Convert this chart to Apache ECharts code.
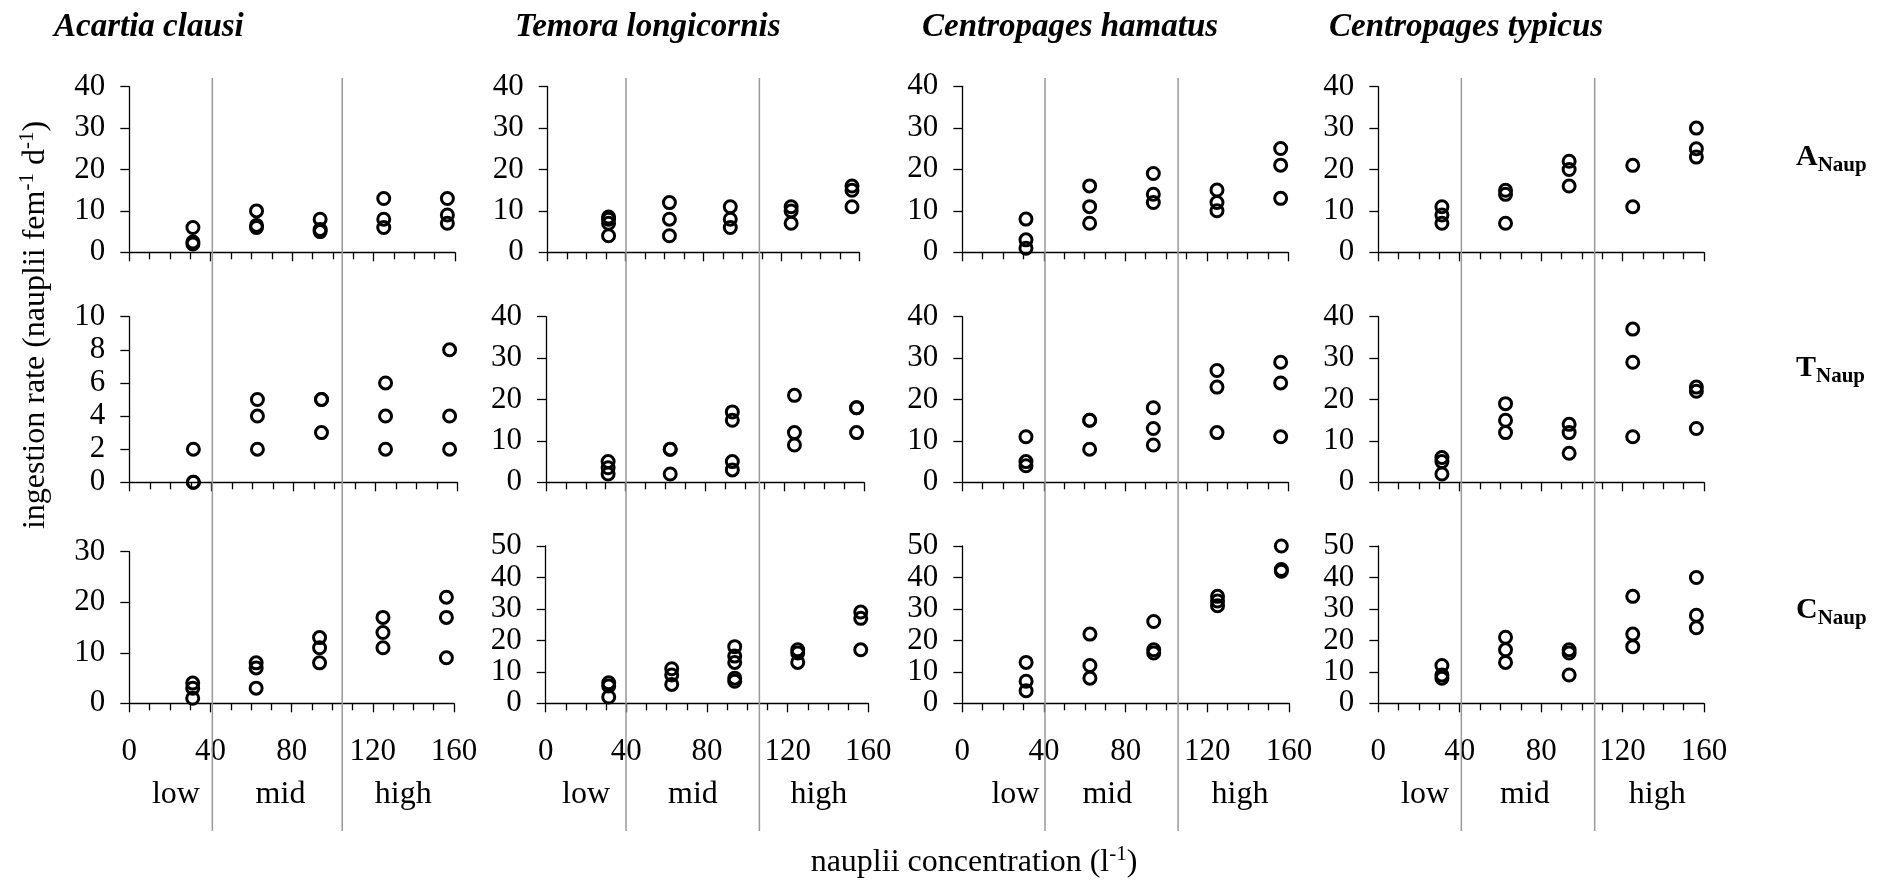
<!DOCTYPE html>
<html><head><meta charset="utf-8">
<script src="https://cdn.jsdelivr.net/npm/echarts@6/dist/echarts.min.js"></script>
<style>html,body{margin:0;padding:0;background:#fff}#c{width:1888px;height:888px}</style>
</head><body><div id="c"></div>
<script>
// ---------- data ----------
const species = ['Acartia clausi', 'Temora longicornis', 'Centropages hamatus', 'Centropages typicus'];
const preyLetters = ['A', 'T', 'C'];
const preySub = 'Naup';
const concentrations = [31.25, 62.5, 93.75, 125, 156.25];
const xTickLabels = [0, 40, 80, 120, 160];
const regionNames = ['low', 'mid', 'high'];
const regionCenters = [[23, 74.5, 135], [20, 73, 135.5], [26, 71, 136], [23, 72, 137]];
const dividers = [[40.8, 104.6], [40.2, 108.7], [40.6, 105.9], [40.8, 106.3]];
const yMax = [[40, 40, 40, 40], [10, 40, 40, 40], [30, 50, 50, 50]];
const yStep = [[10, 10, 10, 10], [2, 10, 10, 10], [10, 10, 10, 10]];

// prey: A_Naup
const acartia_A = [[6, 2.5, 2], [10, 6.5, 6], [8, 5.5, 5], [13, 8, 6], [13, 9, 7]];
const temora_A = [[8.5, 8, 7, 4], [12, 8, 4], [11, 8, 6], [11, 10, 7], [16, 15, 11]];
const hamatus_A = [[8, 3, 1], [16, 11, 7], [19, 14, 12], [15, 12, 10], [25, 21, 13]];
const typicus_A = [[11, 9, 7], [15, 14, 7], [22, 20, 16], [21, 11], [30, 25, 23]];
// prey: T_Naup
const acartia_T = [[2, 0, 0], [5, 4, 2], [5, 5, 3], [6, 4, 2], [8, 4, 2]];
const temora_T = [[5, 3.5, 2], [8, 8, 2], [17, 15, 5, 3], [21, 12, 9], [18, 18, 12]];
const hamatus_T = [[11, 5, 4], [15, 15, 8], [18, 13, 9], [27, 23, 12], [29, 24, 11]];
const typicus_T = [[6, 5, 2], [19, 15, 12], [14, 12, 7], [37, 29, 11], [23, 22, 13]];
// prey: C_Naup
const acartia_C = [[4, 3, 1], [8, 7, 3], [13, 11, 8], [17, 14, 11], [21, 17, 9]];
const temora_C = [[6.5, 5.5, 2], [11, 9, 6], [18, 15, 13, 8, 7], [17, 16, 13], [29, 27, 17]];
const hamatus_C = [[13, 7, 4], [22, 12, 8], [26, 17, 16], [34, 32.5, 31], [50, 42.5, 42]];
const typicus_C = [[12, 9, 8], [21, 17, 13], [17, 16, 9], [34, 22, 18], [40, 28, 24]];

const panelData = [
  [acartia_A, temora_A, hamatus_A, typicus_A],
  [acartia_T, temora_T, hamatus_T, typicus_T],
  [acartia_C, temora_C, hamatus_C, typicus_C]
];

// ---------- layout ----------
const boxes = [
  [[129.3, 86.7, 325.7, 165.6], [547.7, 86.7, 311.6, 165.6], [962.3, 86.3, 326, 166], [1378.3, 86.7, 325.7, 165.6]],
  [[129.3, 316.7, 328, 165.6], [546, 316.7, 318, 165.6], [962.3, 316.7, 326, 165.6], [1378.3, 316.7, 325.7, 165.6]],
  [[129.3, 551.7, 324.7, 151.6], [545.7, 546, 322.6, 157.3], [962.3, 546, 326.7, 157.3], [1378.3, 546, 325.7, 157.3]]
];
const FONT = 'Liberation Serif';
const lineCol = '#000';

const grid = [], xAxis = [], yAxis = [], series = [];
for (let r = 0; r < 3; r++) {
  for (let c = 0; c < 4; c++) {
    const k = r * 4 + c;
    const b = boxes[r][c];
    grid.push({ left: b[0], top: b[1], width: b[2], height: b[3], containLabel: false });
    xAxis.push({
      gridIndex: k, type: 'value', min: 0, max: 160, interval: 40,
      axisLine: { show: true, onZero: false, lineStyle: { color: lineCol, width: 1.3 } },
      axisTick: { show: true, length: 9, lineStyle: { color: lineCol, width: 1.3 } },
      minorTick: { show: true, splitNumber: 4, length: 7, lineStyle: { color: lineCol, width: 1.3 } },
      splitLine: { show: false },
      axisLabel: {
        show: r === 2, margin: 33, color: '#000', fontSize: 31, fontFamily: FONT,
        customValues: xTickLabels
      }
    });
    yAxis.push({
      gridIndex: k, type: 'value', min: 0, max: yMax[r][c], interval: yStep[r][c],
      axisLine: { show: true, lineStyle: { color: lineCol, width: 1.3 } },
      axisTick: { show: true, length: 9, lineStyle: { color: lineCol, width: 1.3 } },
      splitLine: { show: false },
      axisLabel: { margin: 24, color: '#000', fontSize: 31, fontFamily: FONT }
    });
    const pts = [];
    panelData[r][c].forEach((vals, i) => vals.forEach(v => pts.push([concentrations[i], v])));
    series.push({
      type: 'scatter', xAxisIndex: k, yAxisIndex: k, data: pts,
      symbol: 'circle', symbolSize: 12, silent: true,
      itemStyle: { color: 'rgba(0,0,0,0)', borderColor: '#000', borderWidth: 3, opacity: 1 },
      z: 5
    });
  }
}
// region label axes (low / mid / high)
for (let c = 0; c < 4; c++) {
  const b = boxes[2][c];
  const gi = grid.length;
  grid.push({ left: b[0], top: b[1], width: b[2], height: b[3] });
  xAxis.push({
    gridIndex: gi, type: 'value', min: 0, max: 160, position: 'bottom',
    axisLine: { show: false }, axisTick: { show: false }, splitLine: { show: false },
    axisLabel: {
      margin: 75, color: '#000', fontSize: 32, fontFamily: FONT,
      customValues: regionCenters[c],
      formatter: v => regionNames[regionCenters[c].indexOf(v)]
    }
  });
  yAxis.push({ gridIndex: gi, type: 'value', min: 0, max: 1, show: false });
}
// divider lines, full height per column
for (let c = 0; c < 4; c++) {
  const b = boxes[0][c];
  const gi = grid.length;
  grid.push({ left: b[0], top: 78, width: b[2], height: 753 });
  xAxis.push({ gridIndex: gi, type: 'value', min: 0, max: 160, show: false });
  yAxis.push({ gridIndex: gi, type: 'value', min: 0, max: 1, show: false });
  dividers[c].forEach(d => {
    series.push({
      type: 'line', xAxisIndex: xAxis.length - 1, yAxisIndex: yAxis.length - 1,
      data: [[d, 0], [d, 1]], showSymbol: false, silent: true,
      lineStyle: { color: '#999', width: 1.5 }, z: 1
    });
  });
}

// ---------- texts ----------
const titleX = [54, 515, 922, 1329];
const graphic = [];
species.forEach((s, c) => graphic.push({
  type: 'text', x: titleX[c], y: 27,
  style: { text: s, font: 'italic bold 33px ' + FONT, fill: '#000', verticalAlign: 'middle' }
}));
const rowLabelY = [157, 368, 610];
preyLetters.forEach((p, r) => graphic.push({
  type: 'text', x: 1796, y: rowLabelY[r],
  style: {
    text: '{b|' + p + '}{s|' + preySub + '}', fill: '#000', verticalAlign: 'middle',
    rich: {
      b: { fontSize: 30, fontWeight: 'bold', fontFamily: FONT, lineHeight: 38, fill: '#000' },
      s: { fontSize: 21, fontWeight: 'bold', fontFamily: FONT, lineHeight: 21, verticalAlign: 'bottom', fill: '#000' }
    }
  }
}));
graphic.push({
  type: 'text', x: 36, y: 325, rotation: Math.PI / 2,
  style: {
    text: '{n|ingestion rate (nauplii fem}{p|-1}{n| d}{p|-1}{n|)}', align: 'center', verticalAlign: 'middle', fill: '#000',
    rich: {
      n: { fontSize: 32, fontFamily: FONT, lineHeight: 38, fill: '#000' },
      p: { fontSize: 21, fontFamily: FONT, lineHeight: 21, verticalAlign: 'top', fill: '#000' }
    }
  }
});
graphic.push({
  type: 'text', x: 974, y: 863,
  style: {
    text: '{n|nauplii concentration (l}{p|-1}{n|)}', align: 'center', verticalAlign: 'middle', fill: '#000',
    rich: {
      n: { fontSize: 32, fontFamily: FONT, lineHeight: 38, fill: '#000' },
      p: { fontSize: 21, fontFamily: FONT, lineHeight: 21, verticalAlign: 'top', fill: '#000' }
    }
  }
});

const chart = echarts.init(document.getElementById('c'), null, { renderer: 'canvas' });
chart.setOption({
  animation: false, backgroundColor: '#fff',
  grid, xAxis, yAxis, series, graphic
});
</script></body></html>
